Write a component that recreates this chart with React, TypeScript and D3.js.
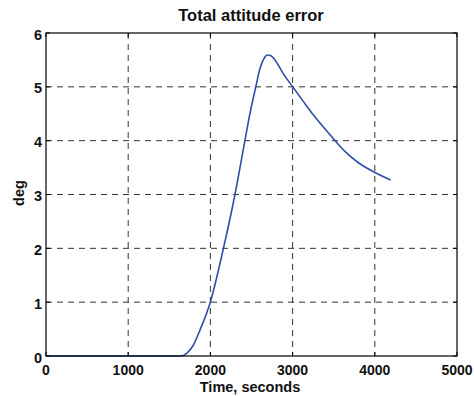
import React from "react";
import * as d3 from "d3";

// Time (s) and total attitude error (deg)
const timeSec = [0, 500, 1000, 1500, 1640, 1711, 1792, 1873, 1995, 2157, 2299, 2421, 2482, 2555, 2603, 2650, 2695, 2730, 2786, 2880, 3001, 3130, 3252, 3455, 3637, 3800, 4002, 4193];
const errorDeg = [0, 0, 0, 0, 0, 0.05, 0.2, 0.48, 0.98, 1.99, 3.0, 4.01, 4.51, 5.02, 5.34, 5.52, 5.59, 5.58, 5.5, 5.26, 5.0, 4.73, 4.48, 4.11, 3.8, 3.59, 3.41, 3.27];
const xTicks = [0, 1000, 2000, 3000, 4000, 5000];
const yTicks = [0, 1, 2, 3, 4, 5, 6];

const W = 474;
const H = 396;
const left = 46;
const right = 457;
const top = 33;
const bottom = 356;
const font = "Liberation Sans, Arial, sans-serif";

export default function App() {
  const x = d3.scaleLinear().domain([0, 5000]).range([left, right]);
  const y = d3.scaleLinear().domain([0, 6]).range([bottom, top]);
  const pts = timeSec.map((t, i) => [t, errorDeg[i]] as [number, number]);
  const line = d3
    .line<[number, number]>()
    .x((d) => x(d[0]))
    .y((d) => y(d[1]))
    .curve(d3.curveMonotoneX);

  return (
    <svg
      width={W}
      height={H}
      style={{ position: "absolute", left: 0, top: 0, background: "#fff" }}
    >
      <rect x={0} y={0} width={W} height={H} fill="#fff" />
      {/* grid */}
      {xTicks.slice(1, -1).map((t) => (
        <line key={"gx" + t} x1={x(t)} x2={x(t)} y1={top} y2={bottom} stroke="#333" strokeWidth={1} strokeDasharray="6,5" />
      ))}
      {yTicks.slice(1, -1).map((t) => (
        <line key={"gy" + t} x1={left} x2={right} y1={y(t)} y2={y(t)} stroke="#333" strokeWidth={1} strokeDasharray="6,5" />
      ))}
      {/* ticks */}
      {xTicks.map((t) => (
        <g key={"tx" + t}>
          <line x1={x(t)} x2={x(t)} y1={bottom} y2={bottom - 4} stroke="#000" />
          <line x1={x(t)} x2={x(t)} y1={top} y2={top + 4} stroke="#000" />
          <text x={x(t)} y={bottom + 18.5} textAnchor="middle" fontFamily={font} fontWeight="bold" fontSize={14} fill="#111">
            {t}
          </text>
        </g>
      ))}
      {yTicks.map((t) => (
        <g key={"ty" + t}>
          <line x1={left} x2={left + 4} y1={y(t)} y2={y(t)} stroke="#000" />
          <line x1={right} x2={right - 4} y1={y(t)} y2={y(t)} stroke="#000" />
          <text x={left - 4} y={y(t) + 6.5} textAnchor="end" fontFamily={font} fontWeight="bold" fontSize={14.5} fill="#111">
            {t}
          </text>
        </g>
      ))}
      {/* curve */}
      <path d={line(pts) || ""} fill="none" stroke="#2d4fa8" strokeWidth={1.6} />
      {/* frame */}
      <rect x={left} y={top} width={right - left} height={bottom - top} fill="none" stroke="#000" strokeWidth={1.2} />
      {/* labels */}
      <text x={251} y={21} textAnchor="middle" fontFamily={font} fontWeight="bold" fontSize={16.5} fill="#111">
        Total attitude error
      </text>
      <text x={250} y={391.5} textAnchor="middle" fontFamily={font} fontWeight="bold" fontSize={14.5} fill="#111">
        Time, seconds
      </text>
      <text
        transform={`translate(${24},${193}) rotate(-90)`}
        textAnchor="middle"
        fontFamily={font}
        fontWeight="bold"
        fontSize={14.5}
        fill="#111"
      >
        deg
      </text>
    </svg>
  );
}
